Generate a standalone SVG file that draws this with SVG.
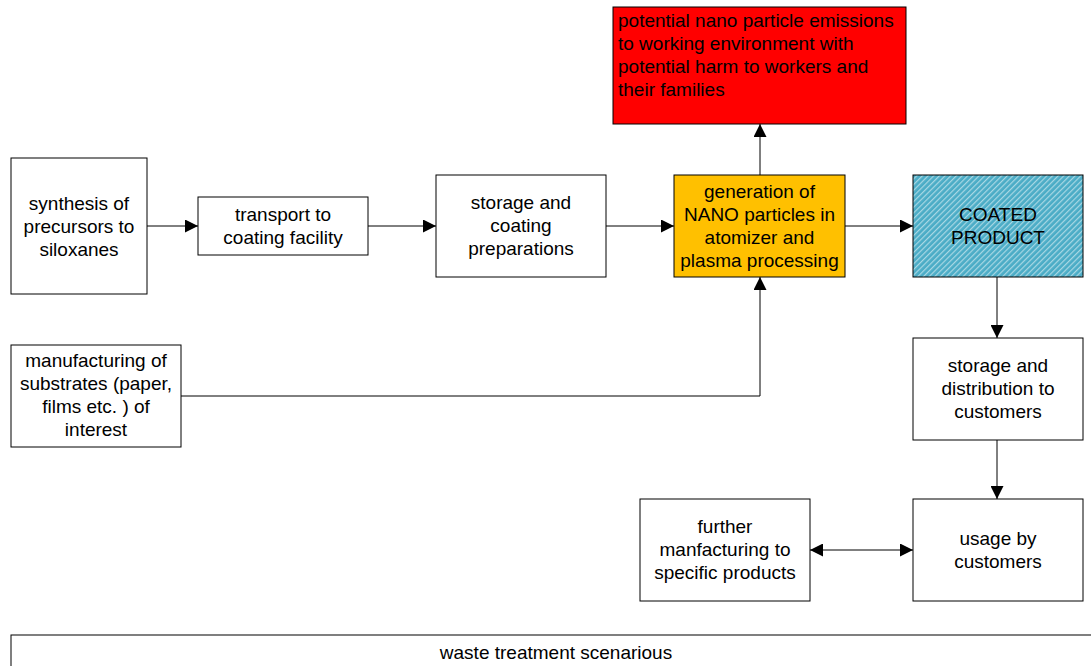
<svg xmlns="http://www.w3.org/2000/svg" width="1091" height="666" viewBox="0 0 1091 666">
<style>
.b{fill:#fff;stroke:#000;stroke-width:1}
.t{font-family:"Liberation Sans",Arial,sans-serif;font-size:19px;fill:#000;text-anchor:middle}
.l{font-family:"Liberation Sans",Arial,sans-serif;font-size:19px;fill:#000}
.c{fill:none;stroke:#000;stroke-width:1}
</style>
<defs>
<marker id="a" viewBox="0 0 10 10" refX="10" refY="5" markerWidth="13" markerHeight="13" markerUnits="userSpaceOnUse" orient="auto-start-reverse">
<path d="M0,0L10,5L0,10z" fill="#000"/>
</marker>
<pattern id="h" width="4" height="4" patternUnits="userSpaceOnUse" patternTransform="rotate(45)">
<rect width="4" height="4" fill="#4BACC6"/>
<rect width="1.2" height="4" fill="#A9D8E4"/>
</pattern>
</defs>
<g id="connectors">
<line class="c" x1="147" y1="226" x2="198" y2="226" marker-end="url(#a)"/>
<line class="c" x1="368" y1="226" x2="436" y2="226" marker-end="url(#a)"/>
<line class="c" x1="606" y1="226" x2="674" y2="226" marker-end="url(#a)"/>
<line class="c" x1="845" y1="226" x2="913" y2="226" marker-end="url(#a)"/>
<line class="c" x1="760" y1="175" x2="760" y2="124" marker-end="url(#a)"/>
<polyline class="c" points="181,396 760,396 760,277" marker-end="url(#a)"/>
<line class="c" x1="997" y1="277" x2="997" y2="338" marker-end="url(#a)"/>
<line class="c" x1="997" y1="440" x2="997" y2="499" marker-end="url(#a)"/>
<line class="c" x1="810" y1="550" x2="913" y2="550" marker-start="url(#a)" marker-end="url(#a)"/>
</g>
<g id="synthesis">
<rect class="b" x="11" y="158" width="136" height="136"/>
<text class="t"><tspan x="79" y="210">synthesis of</tspan><tspan x="79" y="233">precursors to</tspan><tspan x="79" y="256">siloxanes</tspan></text>
</g>
<g id="transport">
<rect class="b" x="198" y="197" width="170" height="58"/>
<text class="t"><tspan x="283" y="221">transport to</tspan><tspan x="283" y="244">coating facility</tspan></text>
</g>
<g id="storage-coating">
<rect class="b" x="436" y="175" width="170" height="102"/>
<text class="t"><tspan x="521" y="209">storage and</tspan><tspan x="521" y="232">coating</tspan><tspan x="521" y="255">preparations</tspan></text>
</g>
<g id="generation">
<rect x="674" y="175" width="171" height="102" fill="#FFC000" stroke="#000"/>
<text class="t"><tspan x="759.500" y="198">generation of</tspan><tspan x="759.500" y="221">NANO particles in</tspan><tspan x="759.500" y="244">atomizer and</tspan><tspan x="759.500" y="267">plasma processing</tspan></text>
</g>
<g id="emissions">
<rect x="613" y="7" width="293" height="117" fill="#FF0000" stroke="#000"/>
<text class="l"><tspan x="618" y="27">potential nano particle emissions</tspan><tspan x="618" y="50">to working environment with</tspan><tspan x="618" y="73">potential harm to workers and</tspan><tspan x="618" y="96">their families</tspan></text>
</g>
<g id="coated-product">
<rect x="913" y="175" width="170" height="102" fill="url(#h)" stroke="#000"/>
<text class="t"><tspan x="998" y="221">COATED</tspan><tspan x="998" y="244">PRODUCT</tspan></text>
</g>
<g id="manufacturing">
<rect class="b" x="11" y="345" width="170" height="102"/>
<text class="t"><tspan x="96" y="367">manufacturing of</tspan><tspan x="96" y="390">substrates (paper,</tspan><tspan x="96" y="413">films etc. ) of</tspan><tspan x="96" y="436">interest</tspan></text>
</g>
<g id="storage-distribution">
<rect class="b" x="913" y="338" width="170" height="102"/>
<text class="t"><tspan x="998" y="372">storage and</tspan><tspan x="998" y="395">distribution to</tspan><tspan x="998" y="418">customers</tspan></text>
</g>
<g id="usage">
<rect class="b" x="913" y="499" width="170" height="102"/>
<text class="t"><tspan x="998" y="545">usage by</tspan><tspan x="998" y="568">customers</tspan></text>
</g>
<g id="further">
<rect class="b" x="640" y="499" width="170" height="102"/>
<text class="t"><tspan x="725" y="533">further</tspan><tspan x="725" y="556">manfacturing to</tspan><tspan x="725" y="579">specific products</tspan></text>
</g>
<g id="waste">
<rect class="b" x="11" y="635" width="1090" height="40"/>
<text class="t" x="556" y="659">waste treatment scenarious</text>
</g>
</svg>
